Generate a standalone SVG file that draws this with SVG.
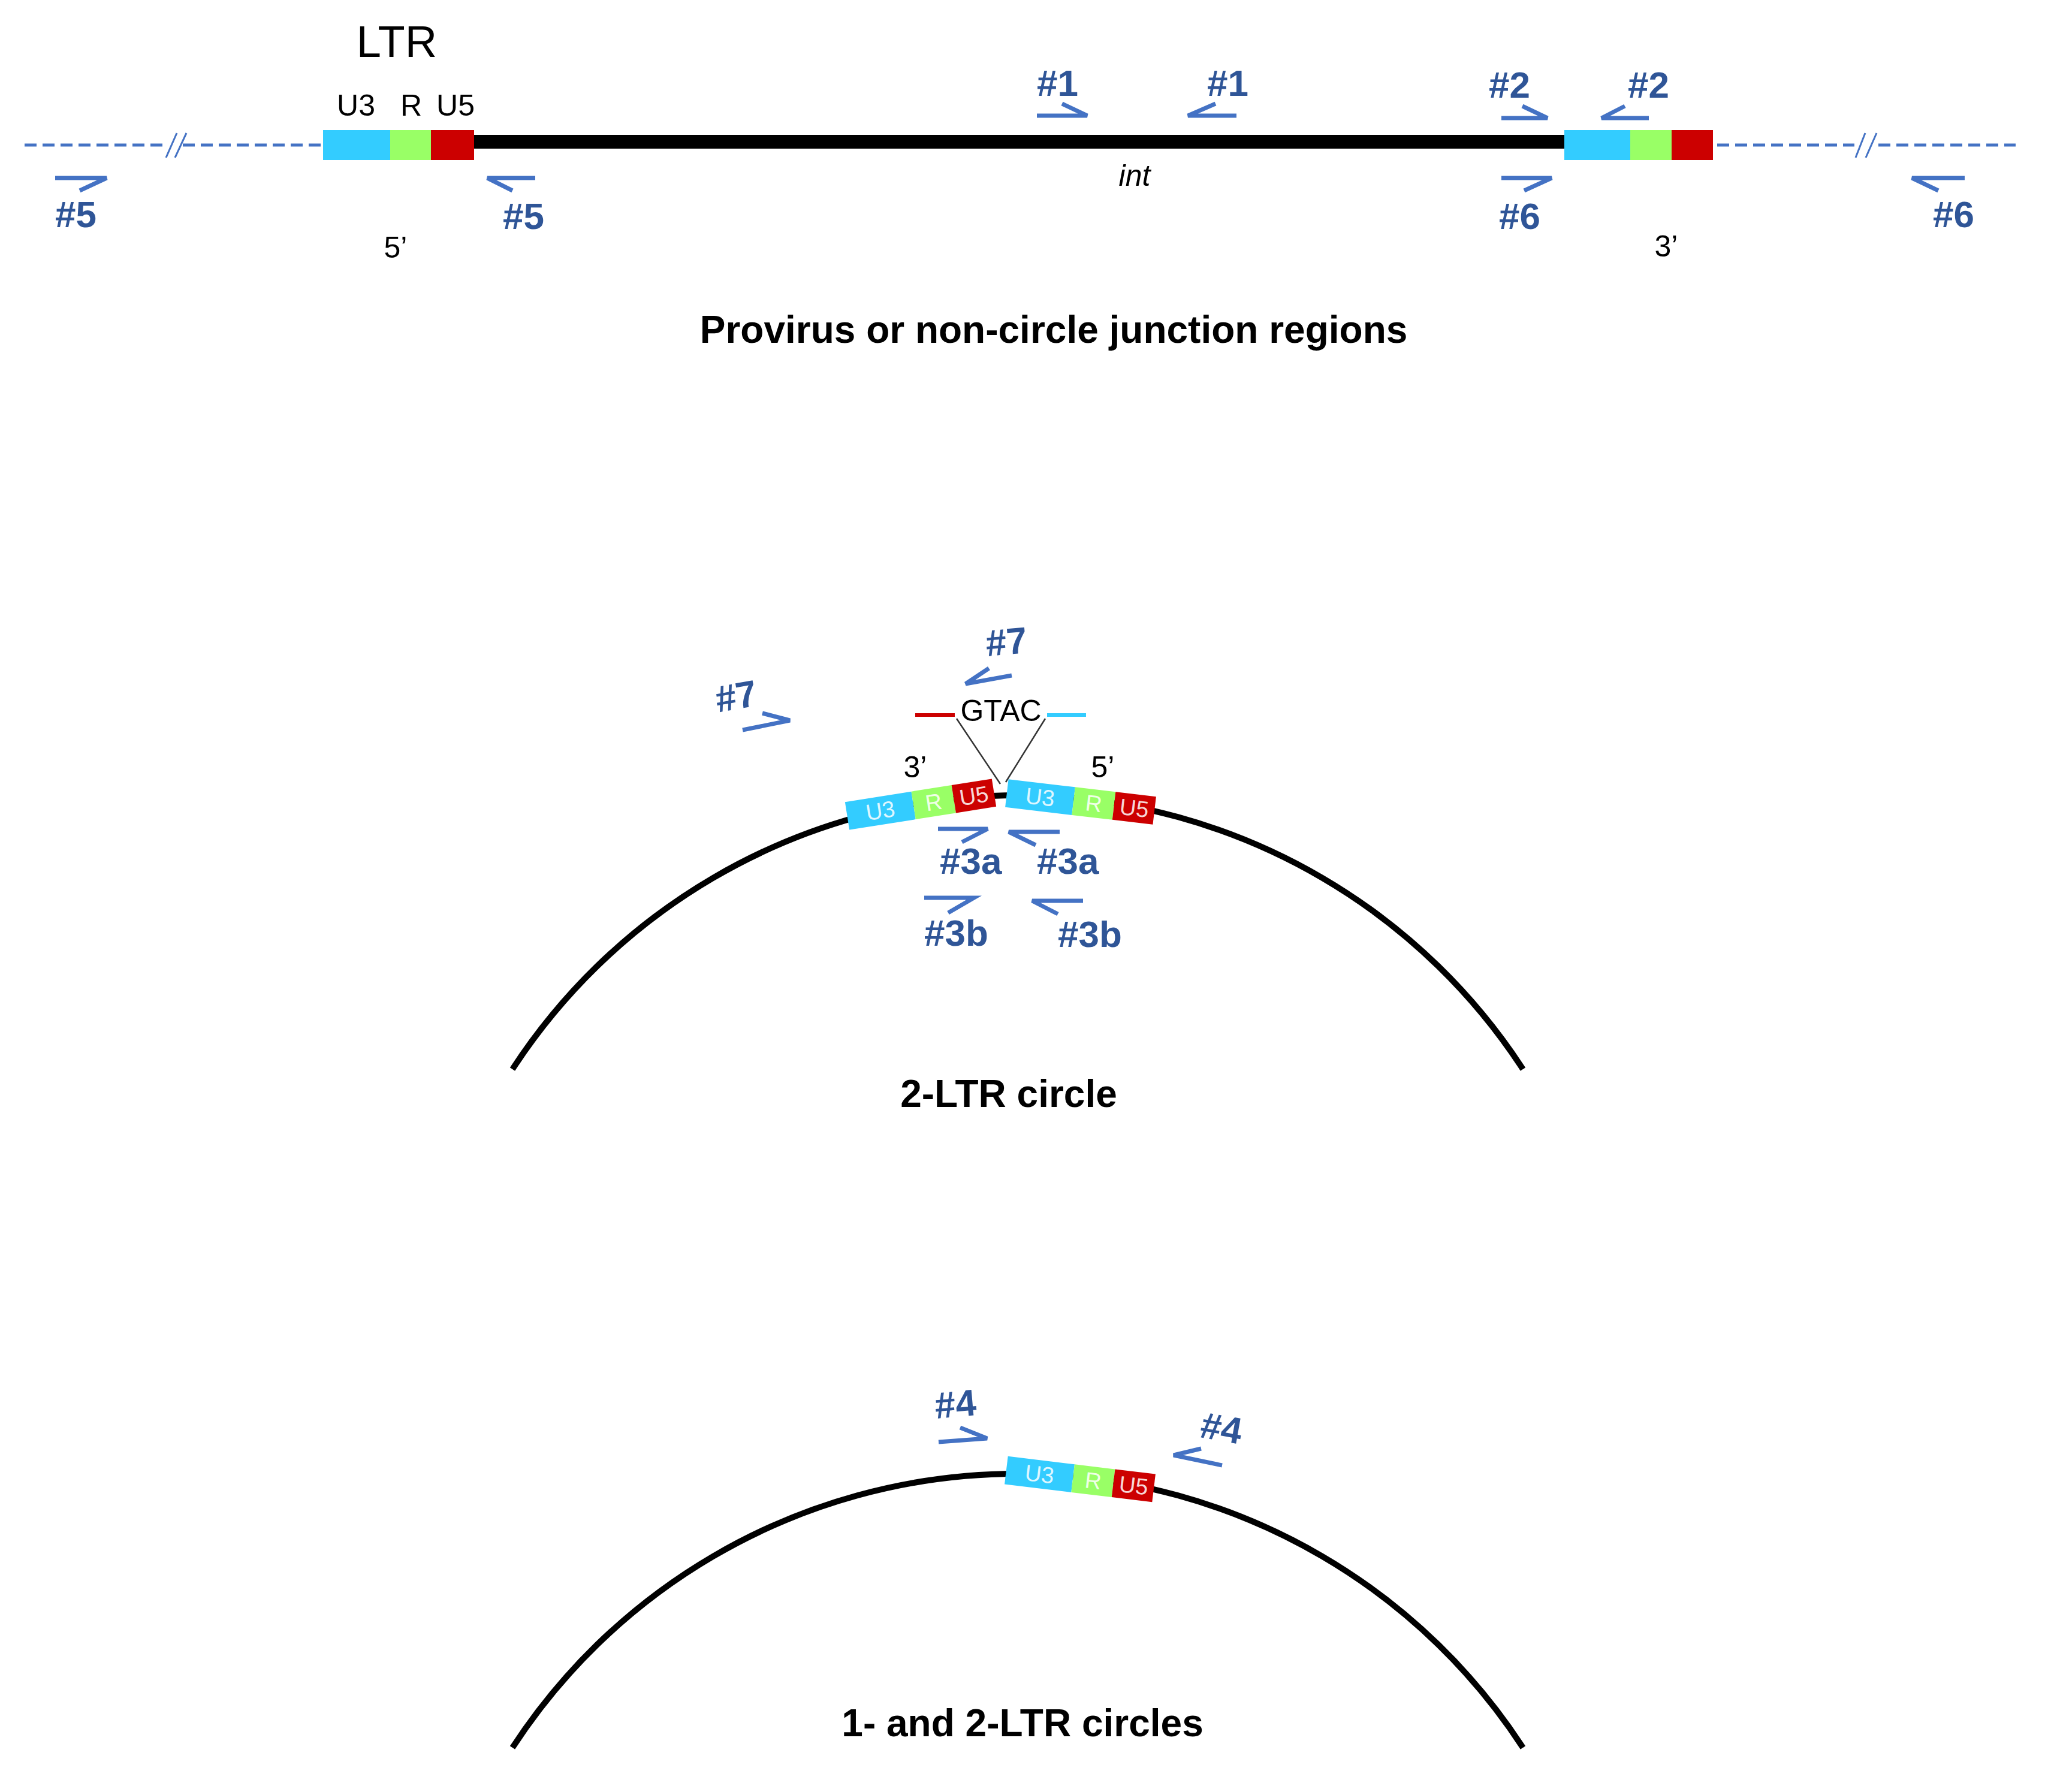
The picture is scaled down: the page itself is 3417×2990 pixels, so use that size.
<svg xmlns="http://www.w3.org/2000/svg" width="3417" height="2990" viewBox="0 0 3417 2990">
<style>
.bg{fill:#ffffff}
.pr{fill:none;stroke:#4472C4;stroke-width:7;stroke-linecap:butt}
.lbl{font-family:"Liberation Sans",Arial,sans-serif;font-weight:bold;font-size:62px;fill:#2F5597}
.txt{font-family:"Liberation Sans",Arial,sans-serif;fill:#000000}
.title{font-family:"Liberation Sans",Arial,sans-serif;font-weight:bold;font-size:64px;fill:#000000}
.dash{fill:none;stroke:#4472C4;stroke-width:5;stroke-dasharray:20 10}
.brk{fill:none;stroke:#4472C4;stroke-width:3}
.u3{fill:#33CCFF}
.r{fill:#99FF66}
.u5{fill:#CC0000}
.arc{fill:none;stroke:#000000;stroke-width:10}
.blk{font-family:"Liberation Sans",Arial,sans-serif;font-size:38px;fill:#ffffff;fill-opacity:0.85;text-anchor:middle}
</style>
<rect class="bg" x="0" y="0" width="3417" height="2990"/>

<!-- Top section: provirus -->
<g id="provirus">
  <path class="dash" d="M41 242 H281"/>
  <path class="dash" d="M305 242 H539"/>
  <path class="brk" d="M277 263 L295 222 M292 263 L311 222"/>
  <rect x="791" y="225" width="1819" height="23" fill="#000000"/>
  <path class="dash" d="M2865 242 H3094"/>
  <path class="dash" d="M3134 242 H3363"/>
  <path class="brk" d="M3096 263 L3112 222 M3113 263 L3131 222"/>
</g>
<g id="ltr5">
  <rect class="u3" x="539" y="217" width="112" height="50"/>
  <rect class="r" x="651" y="217" width="68" height="50"/>
  <rect class="u5" x="719" y="217" width="72" height="50"/>
  <text class="txt" x="662" y="95" font-size="74" text-anchor="middle">LTR</text>
  <text class="txt" x="594" y="193" font-size="50" text-anchor="middle">U3</text>
  <text class="txt" x="686" y="193" font-size="50" text-anchor="middle">R</text>
  <text class="txt" x="760" y="193" font-size="50" text-anchor="middle">U5</text>
  <text class="txt" x="660" y="430" font-size="50" text-anchor="middle">5’</text>
</g>
<g id="ltr3">
  <rect class="u3" x="2610" y="217" width="110" height="50"/>
  <rect class="r" x="2720" y="217" width="69" height="50"/>
  <rect class="u5" x="2789" y="217" width="69" height="50"/>
  <text class="txt" x="2780" y="428" font-size="50" text-anchor="middle">3’</text>
</g>
<text id="int" class="txt" x="1893" y="310" font-size="50" font-style="italic" text-anchor="middle">int</text>

<g id="primers-top">
  <path class="pr" d="M92 297 H178 L133 318"/>
  <text class="lbl" x="92" y="379">#5</text>
  <path class="pr" d="M893 297 H813 L855 318"/>
  <text class="lbl" x="839" y="382">#5</text>
  <path class="pr" d="M1730 193 H1814 L1772 173"/>
  <text class="lbl" x="1730" y="160">#1</text>
  <path class="pr" d="M2063 193 H1982 L2028 173"/>
  <text class="lbl" x="2014" y="160">#1</text>
  <path class="pr" d="M2505 197 H2582 L2540 177"/>
  <text class="lbl" x="2484" y="163">#2</text>
  <path class="pr" d="M2751 197 H2672 L2711 177"/>
  <text class="lbl" x="2716" y="163">#2</text>
  <path class="pr" d="M2505 297 H2589 L2543 318"/>
  <text class="lbl" x="2501" y="382">#6</text>
  <path class="pr" d="M3278 297 H3190 L3234 318"/>
  <text class="lbl" x="3225" y="379">#6</text>
</g>
<text id="title1" class="title" x="1758" y="572" text-anchor="middle">Provirus or non-circle junction regions</text>

<!-- Middle section: 2-LTR circle -->
<g id="circle2">
  <path class="arc" d="M855 1784 A1006 1006 0 0 1 2541 1784"/>
</g>
<g id="ltr-left">
  <g transform="translate(1536,1342) rotate(-9)">
    <rect class="u3" x="-124" y="-23.5" width="112" height="47"/>
    <rect class="r" x="-12" y="-23.5" width="68" height="47"/>
    <rect class="u5" x="56" y="-23.5" width="68" height="47"/>
    <text class="blk" x="-68" y="13">U3</text>
    <text class="blk" x="22" y="13">R</text>
    <text class="blk" x="90" y="13">U5</text>
  </g>
  <text class="txt" x="1527" y="1297" font-size="50" text-anchor="middle">3’</text>
</g>
<g id="ltr-right">
  <g transform="translate(1803,1338) rotate(6.7)">
    <rect class="u3" x="-124" y="-23.5" width="112" height="47"/>
    <rect class="r" x="-12" y="-23.5" width="68" height="47"/>
    <rect class="u5" x="56" y="-23.5" width="68" height="47"/>
    <text class="blk" x="-68" y="13">U3</text>
    <text class="blk" x="22" y="13">R</text>
    <text class="blk" x="90" y="13">U5</text>
  </g>
  <text class="txt" x="1840" y="1297" font-size="50" text-anchor="middle">5’</text>
</g>
<g id="junction">
  <line x1="1527" y1="1193" x2="1593" y2="1193" stroke="#CC0000" stroke-width="6"/>
  <line x1="1747" y1="1193" x2="1812" y2="1193" stroke="#33CCFF" stroke-width="6"/>
  <text class="txt" x="1670" y="1203" font-size="50" text-anchor="middle">GTAC</text>
  <path d="M1596 1199 L1669 1308 M1744 1199 L1678 1305" fill="none" stroke="#333333" stroke-width="2.5"/>
</g>
<g id="primers-mid">
  <path class="pr" d="M1239 1218 L1318 1202 L1272 1190"/>
  <text class="lbl" transform="translate(1228,1161) rotate(-10)" x="0" y="22" text-anchor="middle">#7</text>
  <path class="pr" d="M1688 1127 L1611 1141 L1650 1115"/>
  <text class="lbl" transform="translate(1679,1070) rotate(-5)" x="0" y="22" text-anchor="middle">#7</text>
  <path class="pr" d="M1565 1383 H1648 L1605 1405"/>
  <text class="lbl" x="1568" y="1458">#3a</text>
  <path class="pr" d="M1768 1388 H1683 L1728 1410"/>
  <text class="lbl" x="1730" y="1458">#3a</text>
  <path class="pr" d="M1542 1498 H1625 L1582 1523"/>
  <text class="lbl" x="1542" y="1578">#3b</text>
  <path class="pr" d="M1807 1503 H1722 L1765 1525"/>
  <text class="lbl" x="1765" y="1580">#3b</text>
</g>
<text id="title2" class="title" x="1683" y="1847" text-anchor="middle">2-LTR circle</text>

<!-- Bottom section: 1- and 2-LTR circles -->
<g id="circle1">
  <path class="arc" d="M855 2916 A1006 1006 0 0 1 2541 2916"/>
</g>
<g id="ltr-single">
  <g transform="translate(1802,2468) rotate(6.9)">
    <rect class="u3" x="-124" y="-23.5" width="112" height="47"/>
    <rect class="r" x="-12" y="-23.5" width="68" height="47"/>
    <rect class="u5" x="56" y="-23.5" width="68" height="47"/>
    <text class="blk" x="-68" y="13">U3</text>
    <text class="blk" x="22" y="13">R</text>
    <text class="blk" x="90" y="13">U5</text>
  </g>
</g>
<g id="primers-bottom">
  <path class="pr" d="M1566 2406 L1647 2400 L1602 2382"/>
  <text class="lbl" transform="translate(1594,2342) rotate(-5)" x="0" y="22" text-anchor="middle">#4</text>
  <path class="pr" d="M2039 2445 L1958 2428 L2004 2417"/>
  <text class="lbl" transform="translate(2038,2382) rotate(10)" x="0" y="22" text-anchor="middle">#4</text>
</g>
<text id="title3" class="title" x="1706" y="2897" text-anchor="middle">1- and 2-LTR circles</text>
</svg>
